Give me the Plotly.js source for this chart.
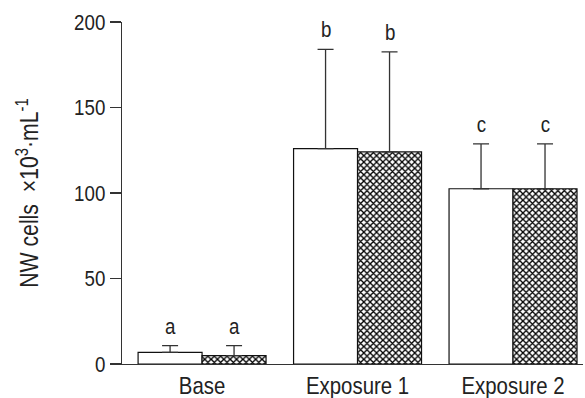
<!DOCTYPE html>
<html>
<head>
<meta charset="utf-8">
<script src="https://cdn.plot.ly/plotly-3.0.1.min.js"></script>
<style>html,body{margin:0;padding:0;background:#fff;}#chart{width:585px;height:398px;}</style>
</head>
<body>
<div id="chart"></div>
<script>
const categories = ['Base', 'Exposure 1', 'Exposure 2'];
const openValues = [6.8, 126, 102.5];
const openErrors = [3.9, 58, 26.2];
const hatchValues = [4.9, 124, 102.5];
const hatchErrors = [5.8, 58.5, 26.2];
const openLetters = ['a', 'b', 'c'];
const hatchLetters = ['a', 'b', 'c'];
const yTicks = [0, 50, 100, 150, 200];

const FONT = '"Liberation Sans", Arial, Helvetica, sans-serif';
const CONDENSE = 0.85;

const traces = [
  {
    type: 'bar', x: categories, y: openValues, name: 'open',
    marker: {color: '#ffffff', line: {color: '#111', width: 1.2}},
    error_y: {type: 'data', symmetric: false, array: openErrors, arrayminus: [0,0,0], color: '#333', thickness: 1.3, width: 8}
  },
  {
    type: 'bar', x: categories, y: hatchValues, name: 'hatched',
    marker: {color: '#ffffff', line: {color: '#111', width: 1.2},
      pattern: {shape: 'x', size: 4.5, solidity: 0.5, fgcolor: '#000', bgcolor: '#fff'}},
    error_y: {type: 'data', symmetric: false, array: hatchErrors, arrayminus: [0,0,0], color: '#333', thickness: 1.3, width: 8}
  }
];

const annotations = [];
categories.forEach((c, i) => {
  annotations.push({x: c, y: openValues[i] + openErrors[i], text: openLetters[i], xshift: -32, yshift: 5,
    yanchor: 'bottom', showarrow: false, font: {family: FONT, size: 22, color: '#222'}});
  annotations.push({x: c, y: hatchValues[i] + hatchErrors[i], text: hatchLetters[i], xshift: 32, yshift: 5,
    yanchor: 'bottom', showarrow: false, font: {family: FONT, size: 22, color: '#222'}});
});

const layout = {
  width: 585, height: 398,
  margin: {l: 122, r: 2, t: 22, b: 34},
  paper_bgcolor: '#fff', plot_bgcolor: '#fff',
  showlegend: false,
  barmode: 'group', bargap: 0.177, bargroupgap: 0,
  font: {family: FONT, color: '#222'},
  xaxis: {
    range: [-0.515, 2.45], showline: true, linecolor: '#333', linewidth: 1.3,
    ticks: '', showgrid: false, zeroline: false, automargin: false,
    tickfont: {family: FONT, size: 24, color: '#222'}
  },
  yaxis: {
    range: [0, 200], tickvals: yTicks, ticktext: yTicks.map(String),
    showline: true, linecolor: '#333', linewidth: 1.3,
    ticks: 'outside', ticklen: 11, tickcolor: '#333', tickwidth: 1.3,
    showgrid: false, zeroline: false, automargin: false,
    tickfont: {family: FONT, size: 22, color: '#222'},
    title: {text: 'NW cells  ×10<sup>3</sup>·mL<sup>-1</sup>', font: {family: FONT, size: 25, color: '#222'}, standoff: 22}
  },
  annotations: annotations
};

Plotly.newPlot('chart', traces, layout, {displayModeBar: false, staticPlot: true}).then(() => {
  // condense all text horizontally (the reference uses a condensed sans-serif)
  document.querySelectorAll('#chart svg text').forEach(t => {
    const x = parseFloat(t.getAttribute('x') || '0');
    const prev = t.getAttribute('transform') || '';
    t.setAttribute('transform', prev + ` translate(${x},0) scale(${CONDENSE},1) translate(${-x},0)`);
  });
});
</script>
</body>
</html>
